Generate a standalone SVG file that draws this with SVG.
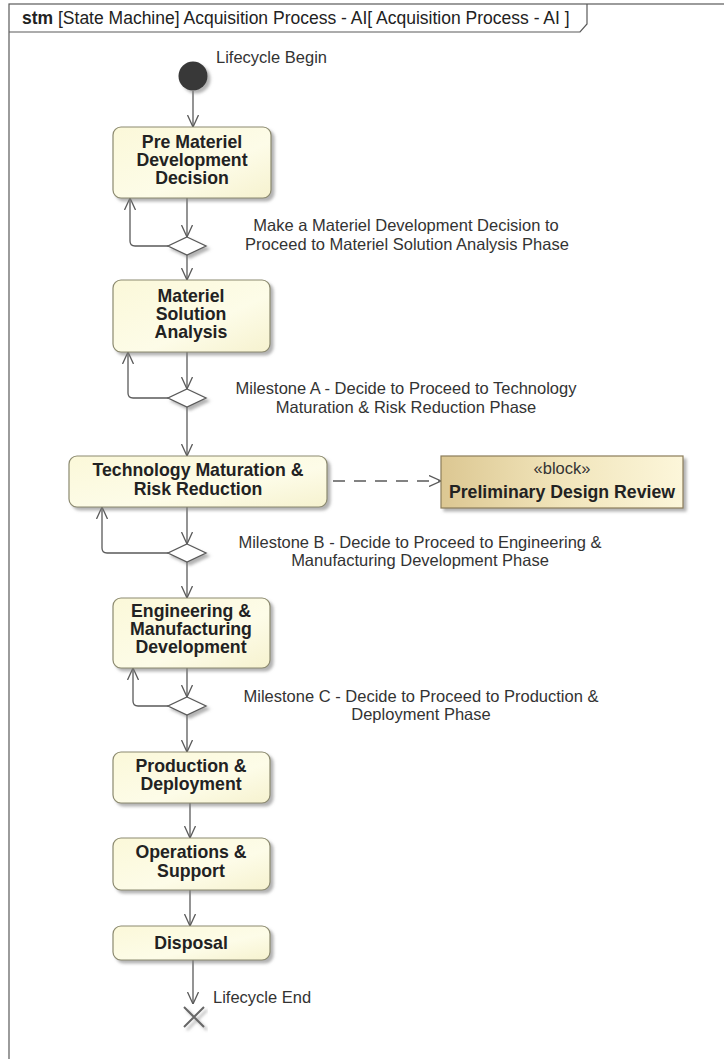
<svg xmlns="http://www.w3.org/2000/svg" width="724" height="1059" viewBox="0 0 724 1059">
<defs>
<style>
.frame{fill:none;stroke:#5a5a5a;stroke-width:1.2}
.title{font-family:"Liberation Sans",Arial,sans-serif;font-size:17.5px;fill:#222}
.st{fill:url(#stGrad);stroke:#8c8a70;stroke-width:1.2}
.blk{fill:url(#blkGrad);stroke:#8c7d5a;stroke-width:1.2}
.nm{font-family:"Liberation Sans",Arial,sans-serif;font-size:17.7px;font-weight:bold;fill:#222;text-anchor:middle}
.lbl{font-family:"Liberation Sans",Arial,sans-serif;font-size:16.5px;fill:#333;text-anchor:middle}
.lbls{font-family:"Liberation Sans",Arial,sans-serif;font-size:16.5px;fill:#333}
.ln{fill:none;stroke:#5a5a5a;stroke-width:1.3}
.dia{fill:#ffffff;stroke:#5a5a5a;stroke-width:1.3}
</style>
<linearGradient id="stGrad" x1="0" y1="0" x2="1" y2="1">
<stop offset="0" stop-color="#fbf8d9"/>
<stop offset="0.6" stop-color="#fdfce8"/>
<stop offset="1" stop-color="#f6f2cf"/>
</linearGradient>
<linearGradient id="blkGrad" x1="0" y1="0" x2="1" y2="0">
<stop offset="0" stop-color="#dcc792"/>
<stop offset="0.5" stop-color="#f1e5bb"/>
<stop offset="1" stop-color="#fcf6da"/>
</linearGradient>
<filter id="sh" x="-10%" y="-10%" width="130%" height="140%">
<feDropShadow dx="3" dy="3" stdDeviation="1.5" flood-color="#808080" flood-opacity="0.6"/>
</filter>
<marker id="arr" viewBox="0 0 12 12" refX="12" refY="6" markerWidth="12" markerHeight="12" markerUnits="userSpaceOnUse" orient="auto">
<path d="M0,0.5 L12,6 L0,11.5" fill="none" stroke="#5a5a5a" stroke-width="1.3"/>
</marker>
</defs>
<rect width="724" height="1059" fill="#ffffff"/>
<g id="frame">
<rect class="frame" x="9" y="4" width="740" height="1070"/>
<path class="frame" d="M9,32 H580 L587,24 V4"/>
<text class="title" x="22" y="24"><tspan font-weight="bold">stm</tspan> [State Machine] Acquisition Process - AI[ Acquisition Process - AI ]</text>
</g>
<g id="connectors">
<line class="ln" x1="193" y1="91" x2="193" y2="127" marker-end="url(#arr)"/>
<line class="ln" x1="187" y1="198" x2="187" y2="237" marker-end="url(#arr)"/>
<line class="ln" x1="187" y1="255" x2="187" y2="280" marker-end="url(#arr)"/>
<path class="ln" d="M168,246 H135 Q130,246 130,241 V198" marker-end="url(#arr)"/>
<line class="ln" x1="187" y1="352" x2="187" y2="389" marker-end="url(#arr)"/>
<line class="ln" x1="187" y1="407" x2="187" y2="456" marker-end="url(#arr)"/>
<path class="ln" d="M168,398 H133 Q128,398 128,393 V352" marker-end="url(#arr)"/>
<line class="ln" x1="187" y1="507" x2="187" y2="544" marker-end="url(#arr)"/>
<line class="ln" x1="187" y1="562" x2="187" y2="598" marker-end="url(#arr)"/>
<path class="ln" d="M168,553 H107 Q102,553 102,548 V507" marker-end="url(#arr)"/>
<line class="ln" x1="187" y1="668" x2="187" y2="697" marker-end="url(#arr)"/>
<line class="ln" x1="187" y1="715" x2="187" y2="752" marker-end="url(#arr)"/>
<path class="ln" d="M168,706 H138 Q133,706 133,701 V668" marker-end="url(#arr)"/>
<line class="ln" x1="190" y1="803" x2="190" y2="838" marker-end="url(#arr)"/>
<line class="ln" x1="190" y1="890" x2="190" y2="926" marker-end="url(#arr)"/>
<line class="ln" x1="193" y1="960" x2="193" y2="1004" marker-end="url(#arr)"/>
<line class="ln" x1="333" y1="481" x2="441" y2="481" stroke-dasharray="12 9" marker-end="url(#arr)"/>
<text class="lbl" x="406" y="231">Make a Materiel Development Decision to</text>
<text class="lbl" x="407" y="250">Proceed to Materiel Solution Analysis Phase</text>
<text class="lbl" x="406" y="394">Milestone A - Decide to Proceed to Technology</text>
<text class="lbl" x="406" y="413">Maturation &amp; Risk Reduction Phase</text>
<text class="lbl" x="420" y="548">Milestone B - Decide to Proceed to Engineering &amp;</text>
<text class="lbl" x="420" y="566">Manufacturing Development Phase</text>
<text class="lbl" x="421" y="702">Milestone C - Decide to Proceed to Production &amp;</text>
<text class="lbl" x="421" y="720">Deployment Phase</text>
</g>
<g id="initial">
<circle cx="193" cy="76" r="14.5" fill="#383838" filter="url(#sh)"/>
<text class="lbls" x="216" y="63">Lifecycle Begin</text>
</g>
<g id="preMateriel">
<rect class="st" x="113" y="127" width="158" height="71" rx="8" filter="url(#sh)"/>
<text class="nm" x="192" y="148">Pre Materiel</text>
<text class="nm" x="192" y="166">Development</text>
<text class="nm" x="192" y="184">Decision</text>
</g>
<g id="decision1"><path class="dia" d="M187,237 L206,246 L187,255 L168,246 Z" filter="url(#sh)"/></g>
<g id="materielSolution">
<rect class="st" x="113" y="280" width="157" height="72" rx="8" filter="url(#sh)"/>
<text class="nm" x="191" y="302">Materiel</text>
<text class="nm" x="191" y="320">Solution</text>
<text class="nm" x="191" y="338">Analysis</text>
</g>
<g id="decision2"><path class="dia" d="M187,389 L206,398 L187,407 L168,398 Z" filter="url(#sh)"/></g>
<g id="techMaturation">
<rect class="st" x="69" y="456" width="258" height="51" rx="8" filter="url(#sh)"/>
<text class="nm" x="198" y="476">Technology Maturation &amp;</text>
<text class="nm" x="198" y="495">Risk Reduction</text>
</g>
<g id="pdr">
<rect class="blk" x="441" y="456" width="242" height="52" filter="url(#sh)"/>
<text class="lbl" x="562" y="474" fill="#222">«block»</text>
<text class="nm" x="562" y="498">Preliminary Design Review</text>
</g>
<g id="decision3"><path class="dia" d="M187,544 L206,553 L187,562 L168,553 Z" filter="url(#sh)"/></g>
<g id="engineering">
<rect class="st" x="113" y="598" width="157" height="70" rx="8" filter="url(#sh)"/>
<text class="nm" x="191" y="617">Engineering &amp;</text>
<text class="nm" x="191" y="635">Manufacturing</text>
<text class="nm" x="191" y="653">Development</text>
</g>
<g id="decision4"><path class="dia" d="M187,697 L206,706 L187,715 L168,706 Z" filter="url(#sh)"/></g>
<g id="production">
<rect class="st" x="113" y="752" width="157" height="51" rx="8" filter="url(#sh)"/>
<text class="nm" x="191" y="772">Production &amp;</text>
<text class="nm" x="191" y="790">Deployment</text>
</g>
<g id="operations">
<rect class="st" x="113" y="838" width="157" height="52" rx="8" filter="url(#sh)"/>
<text class="nm" x="191" y="858">Operations &amp;</text>
<text class="nm" x="191" y="877">Support</text>
</g>
<g id="disposal">
<rect class="st" x="113" y="926" width="157" height="34" rx="8" filter="url(#sh)"/>
<text class="nm" x="191" y="949">Disposal</text>
</g>
<g id="final">
<path d="M184,1007 L204,1027 M204,1007 L184,1027" fill="none" stroke="#666" stroke-width="2" filter="url(#sh)"/>
<text class="lbls" x="213" y="1003">Lifecycle End</text>
</g>
</svg>
